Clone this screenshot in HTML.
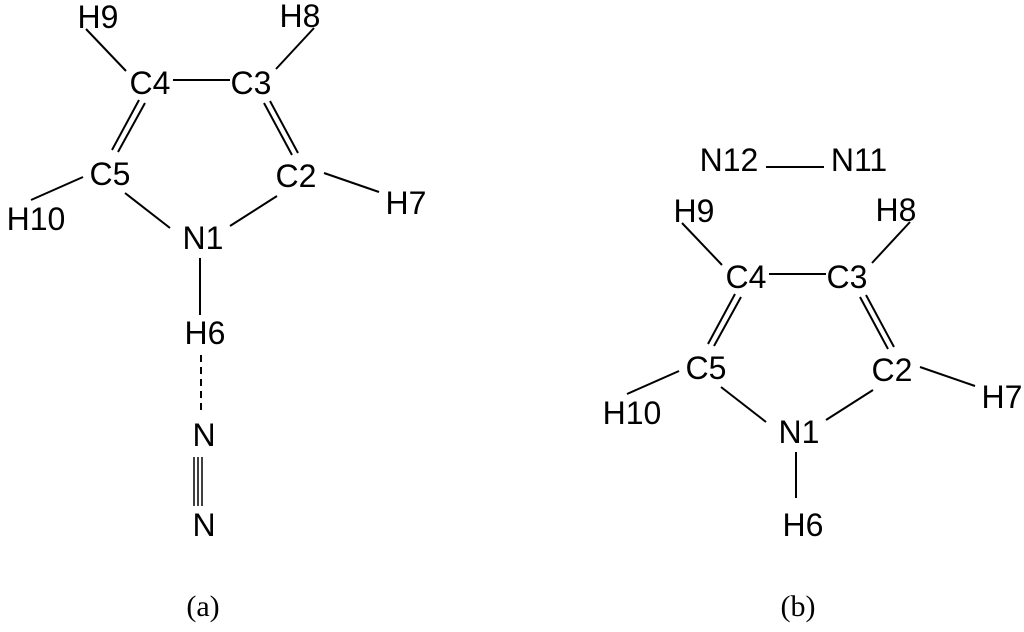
<!DOCTYPE html>
<html><head><meta charset="utf-8"><style>
html,body{margin:0;padding:0;background:#fff;}
svg{display:block;}
text{font-family:"Liberation Sans",sans-serif;font-size:32px;fill:#000;text-anchor:middle;}
text.s{font-family:"Liberation Serif",serif;font-size:30px;}
line{stroke:#000;stroke-width:2;}
</style></head><body>
<svg width="1024" height="632" viewBox="0 0 1024 632">
<defs>
<g id="ring">
<text x="98" y="28">H9</text>
<text x="300" y="27">H8</text>
<text x="150" y="94">C4</text>
<text x="251" y="94">C3</text>
<text x="110" y="185">C5</text>
<text x="296" y="187">C2</text>
<text x="36" y="230">H10</text>
<text x="406" y="214">H7</text>
<text x="203" y="249">N1</text>
<line x1="86" y1="29" x2="126" y2="71"/>
<line x1="173" y1="80" x2="230" y2="80"/>
<line x1="314" y1="28" x2="276" y2="69"/>
<line x1="139" y1="100" x2="112" y2="150"/>
<line x1="145" y1="103" x2="118" y2="152"/>
<line x1="264" y1="103" x2="292" y2="155"/>
<line x1="270" y1="101" x2="298" y2="153"/>
<line x1="83" y1="177" x2="31" y2="200"/>
<line x1="324" y1="173" x2="379" y2="192"/>
<line x1="125" y1="193" x2="170" y2="228"/>
<line x1="277" y1="196" x2="230" y2="226"/>
</g>
</defs>
<use href="#ring"/>
<line x1="200" y1="258" x2="200" y2="315"/>
<text x="205" y="344">H6</text>
<line x1="201" y1="355" x2="201" y2="413" stroke-dasharray="7,5"/>
<text x="204" y="446">N</text>
<line x1="194" y1="457" x2="194" y2="506" style="stroke-width:1.5"/>
<line x1="198" y1="457" x2="198" y2="506" style="stroke-width:1.5"/>
<line x1="202" y1="457" x2="202" y2="506" style="stroke-width:1.5"/>
<text x="204" y="536">N</text>
<text class="s" x="203" y="616">(a)</text>

<g transform="translate(596,194)"><use href="#ring"/></g>
<line x1="796" y1="452" x2="796" y2="498"/>
<text x="803" y="536">H6</text>
<text x="729" y="171">N12</text>
<text x="859" y="171">N11</text>
<line x1="766" y1="167" x2="824" y2="167"/>
<text class="s" x="798" y="616">(b)</text>
</svg>
</body></html>
